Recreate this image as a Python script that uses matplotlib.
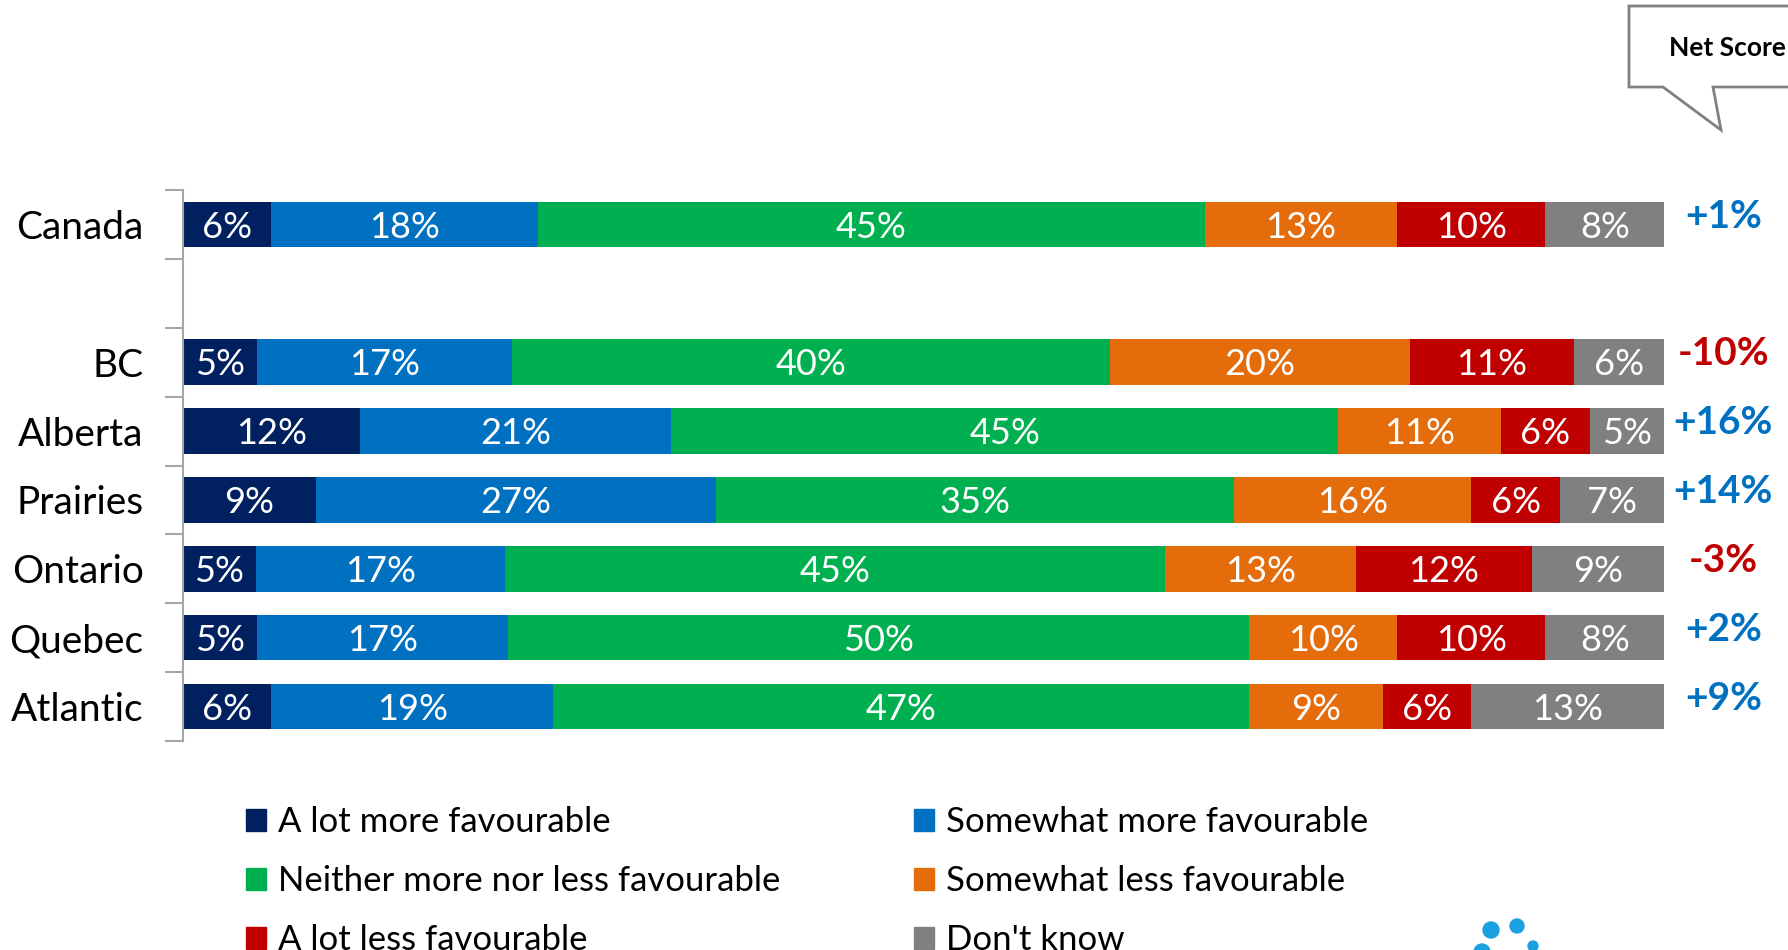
import numpy as np
import matplotlib
matplotlib.use("Agg")
import matplotlib.pyplot as plt
from matplotlib.patches import Polygon, Circle, Patch

plt.rcParams['font.family'] = ['Lato', 'DejaVu Sans']

regions = ['Canada', 'BC', 'Alberta', 'Prairies', 'Ontario', 'Quebec', 'Atlantic']
# slot of each region on the y axis (slot 1 is left empty under Canada)
slots = [0, 2, 3, 4, 5, 6, 7]

answers = ['A lot more favourable', 'Somewhat more favourable',
           'Neither more nor less favourable', 'Somewhat less favourable',
           'A lot less favourable', "Don't know"]
colors = ['#002060', '#0070C0', '#00B050', '#E46C0A', '#C00000', '#808080']

a_lot_more = [6, 5, 12, 9, 5, 5, 6]
somewhat_more = [18, 17, 21, 27, 17, 17, 19]
neither = [45, 40, 45, 35, 45, 50, 47]
somewhat_less = [13, 20, 11, 16, 13, 10, 9]
a_lot_less = [10, 11, 6, 6, 12, 10, 6]
dont_know = [8, 6, 5, 7, 9, 8, 13]

net_score = [1, -10, 16, 14, -3, 2, 9]

series = np.array([a_lot_more, somewhat_more, neither, somewhat_less, a_lot_less, dont_know], dtype=float)
# rounded labels don't always add to 100, the bars all end at 100%
shares = series / series.sum(axis=0) * 100

fig = plt.figure(figsize=(17.88, 9.5), dpi=100)
ax = fig.add_axes([182.5 / 1788, 1 - 741 / 950, (1664 - 182.5) / 1788, (741 - 190) / 950])

left = np.zeros(len(regions))
for k in range(len(answers)):
    ax.barh(slots, shares[k], left=left, height=0.66, color=colors[k], label=answers[k])
    for i in range(len(regions)):
        ax.text(left[i] + shares[k][i] / 2, slots[i] + 0.04, f'{int(series[k][i])}%',
                ha='center', va='center', color='white', fontsize=26)
    left += shares[k]

for i in range(len(regions)):
    v = net_score[i]
    ax.text(104.0, slots[i] - 0.12, f'{v:+d}%', ha='center', va='center',
            fontsize=28, fontweight='bold', color='#0070C0' if v > 0 else '#C00000',
            clip_on=False)

ax.set_xlim(0, 100)
ax.set_ylim(7.5, -0.5)
ax.set_xticks([])
ax.set_yticks(np.arange(-0.5, 8, 1))
ax.set_yticklabels([])
ax.set_yticks(slots, minor=True)
ax.set_yticklabels(regions, minor=True, fontsize=28)
ax.tick_params(axis='y', which='major', length=13, width=1.5, color='#A6A6A6', direction='out')
ax.tick_params(axis='y', which='minor', length=0, pad=28)
for s in ['top', 'right', 'bottom']:
    ax.spines[s].set_visible(False)
ax.spines['left'].set_color('#A6A6A6')
ax.spines['left'].set_linewidth(1.5)

# legend is filled row by row in the original
handles = [Patch(color=colors[k]) for k in [0, 2, 4, 1, 3, 5]]
labels = [answers[k] for k in [0, 2, 4, 1, 3, 5]]
fig.legend(handles, labels, ncol=2, loc='upper left', bbox_to_anchor=(246 / 1788, 1 - 806 / 950),
           frameon=False, fontsize=25, handlelength=0.58, handleheight=0.58,
           handletextpad=0.33, columnspacing=3.87, labelspacing=0.78, borderpad=0, borderaxespad=0)

# "Net Score" callout, cut by the right edge
pts = [(1629, 6), (1800, 6), (1800, 87), (1713, 87), (1721, 130), (1663, 87), (1629, 87)]
fig.patches.append(Polygon([(x / 1788, 1 - y / 950) for x, y in pts], closed=True,
                           facecolor='white', edgecolor='#808080', linewidth=2,
                           transform=fig.transFigure))
fig.text(1669 / 1788, 1 - 48 / 950, 'Net Score', ha='left', va='center',
         fontsize=19, fontweight='bold', color='black')

# logo dots, bottom right
for x, y, r in [(1491, 930, 8), (1517, 926, 7), (1533, 946, 5), (1482, 952, 8)]:
    fig.patches.append(Circle((x / 100, (950 - y) / 100), r / 100, color='#1BA1E2',
                              transform=fig.dpi_scale_trans))

fig.savefig('out.png', dpi=100)
